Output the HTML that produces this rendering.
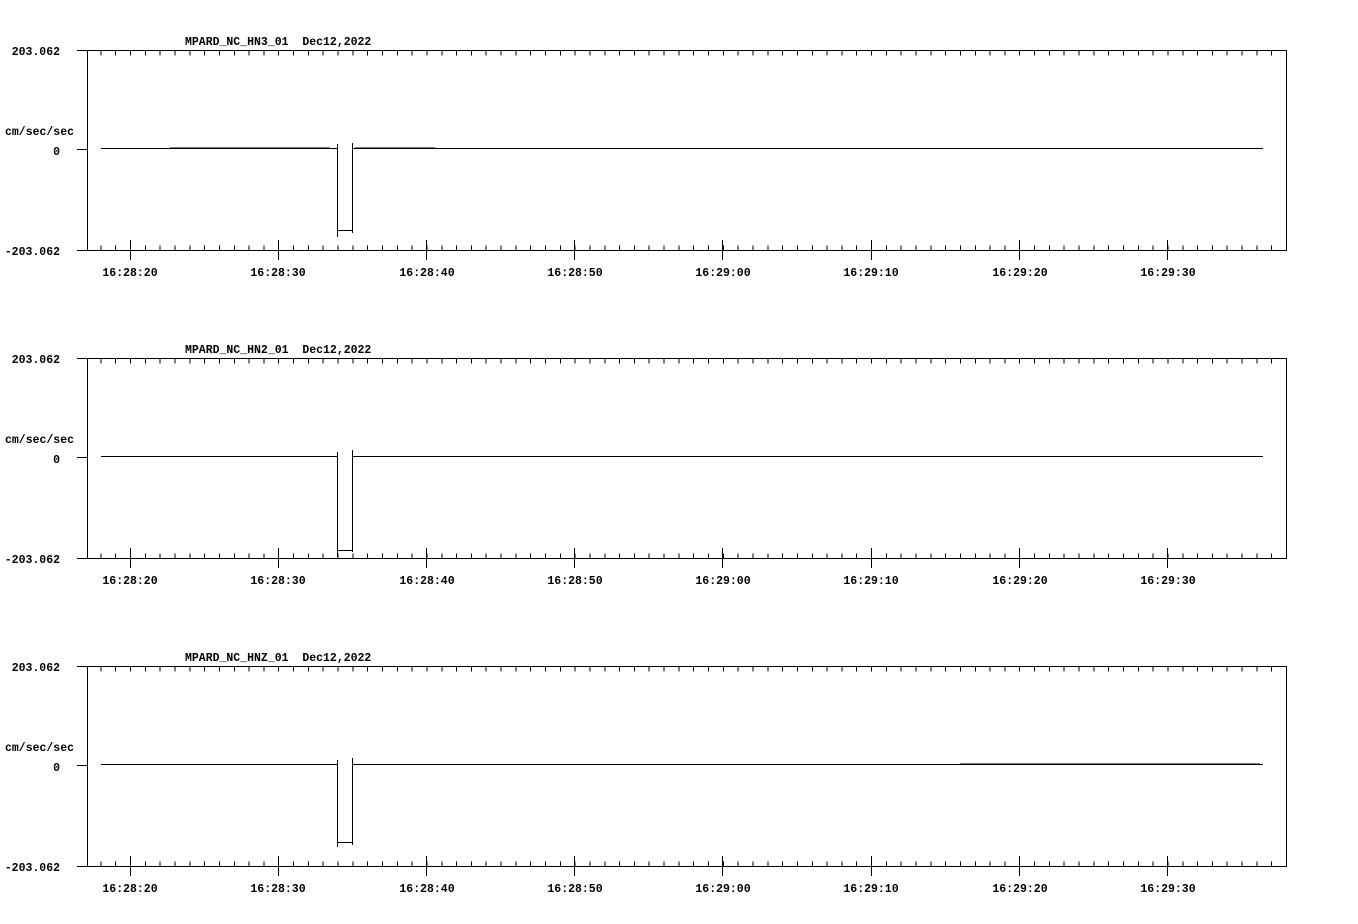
<!DOCTYPE html>
<html><head><meta charset="utf-8"><style>
html,body{margin:0;padding:0;background:#fff;}
svg{display:block;}
text{font-family:"Liberation Mono","DejaVu Sans Mono",monospace;font-weight:bold;font-size:11.5px;fill:#000;white-space:pre;}
</style></head><body>
<svg width="1358" height="924" viewBox="0 0 1358 924" xmlns="http://www.w3.org/2000/svg">
<defs>
<g id="frame" stroke="#000" stroke-width="1" fill="none" shape-rendering="crispEdges">
  <line x1="77" y1="50.5" x2="1286.5" y2="50.5"/>
  <line x1="77" y1="250.5" x2="1286.5" y2="250.5"/>
  <line x1="87.5" y1="50" x2="87.5" y2="251"/>
  <line x1="1286.5" y1="50" x2="1286.5" y2="251"/>
  <line x1="77" y1="149.5" x2="87" y2="149.5"/>
  <line x1="100.4" y1="53" x2="1275" y2="53" stroke-width="5" stroke-dasharray="1 13.82"/>
  <line x1="100.4" y1="248" x2="1275" y2="248" stroke-width="5" stroke-dasharray="1 13.82"/>
  <path d="M130.5 240V260M278.5 240V260M426.5 240V260M574.5 240V260M722.5 240V260M871.5 240V260M1019.5 240V260M1167.5 240V260"/>
  <line x1="101" y1="148.5" x2="337" y2="148.5"/>
  <line x1="353" y1="148.5" x2="1263" y2="148.5"/>
</g>
<g id="labels">
  <text x="60" y="55" text-anchor="end">203.062</text>
  <text x="60" y="155" text-anchor="end">0</text>
  <text x="60" y="255" text-anchor="end">-203.062</text>
  <text x="5" y="135">cm/sec/sec</text>
  <text x="130" y="276" text-anchor="middle">16:28:20</text>
  <text x="278" y="276" text-anchor="middle">16:28:30</text>
  <text x="427" y="276" text-anchor="middle">16:28:40</text>
  <text x="575" y="276" text-anchor="middle">16:28:50</text>
  <text x="723" y="276" text-anchor="middle">16:29:00</text>
  <text x="871" y="276" text-anchor="middle">16:29:10</text>
  <text x="1020" y="276" text-anchor="middle">16:29:20</text>
  <text x="1168" y="276" text-anchor="middle">16:29:30</text>
</g>
</defs>

<!-- Panel 1 -->
<use href="#frame"/>
<use href="#labels"/>
<text x="185" y="45">MPARD_NC_HN3_01&#160;&#160;Dec12,2022</text>
<g stroke="#000" fill="none" shape-rendering="crispEdges">
  <line x1="170" y1="148" x2="330" y2="148" stroke-width="1"/>
  <line x1="355" y1="148" x2="435" y2="148" stroke-width="1"/>
  <line x1="337.5" y1="144" x2="337.5" y2="237"/>
  <line x1="352.5" y1="143" x2="352.5" y2="233"/>
  <line x1="337" y1="230.5" x2="352" y2="230.5"/>
</g>

<!-- Panel 2 -->
<g transform="translate(0,308)">
<use href="#frame"/>
<use href="#labels"/>
<text x="185" y="45">MPARD_NC_HN2_01&#160;&#160;Dec12,2022</text>
<g stroke="#000" fill="none" shape-rendering="crispEdges">
  <line x1="337.5" y1="144" x2="337.5" y2="249"/>
  <line x1="352.5" y1="142" x2="352.5" y2="244"/>
  <line x1="337" y1="242.5" x2="352" y2="242.5"/>
</g>
</g>

<!-- Panel 3 -->
<g transform="translate(0,616)">
<use href="#frame"/>
<use href="#labels"/>
<text x="185" y="45">MPARD_NC_HNZ_01&#160;&#160;Dec12,2022</text>
<g stroke="#000" fill="none" shape-rendering="crispEdges">
  <line x1="960" y1="148" x2="1260" y2="148" stroke-width="1"/>
  <line x1="337.5" y1="144" x2="337.5" y2="231"/>
  <line x1="352.5" y1="142" x2="352.5" y2="229"/>
  <line x1="337" y1="226.5" x2="352" y2="226.5"/>
</g>
</g>
</svg>
</body></html>
